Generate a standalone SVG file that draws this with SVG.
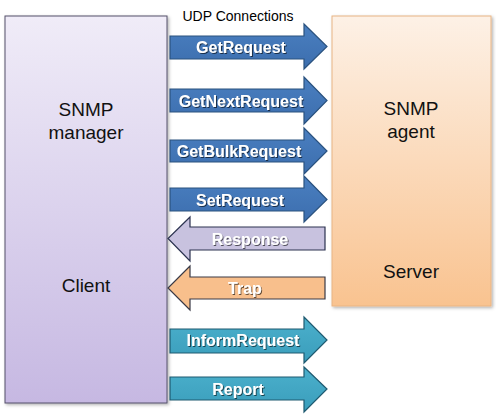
<svg xmlns="http://www.w3.org/2000/svg" width="496" height="416" viewBox="0 0 496 416">
<style>
.big{font-family:"Liberation Sans",Arial,sans-serif;font-size:19px;fill:#111;text-anchor:middle}
.lbl{font-family:"Liberation Sans",Arial,sans-serif;font-size:16px;font-weight:bold;fill:#fff;text-anchor:middle;filter:url(#ts)}
.udp{font-family:"Liberation Sans",Arial,sans-serif;font-size:14px;fill:#000;text-anchor:middle}
.blue{fill:url(#gBlue);stroke:#2a527f;stroke-width:1.2}
.lav{fill:#c8c2df;stroke:#2c3350;stroke-width:1.2}
.org{fill:#f8bf8c;stroke:#3a3a46;stroke-width:1.2}
.teal{fill:url(#gTeal);stroke:#1f5a70;stroke-width:1.2}
</style>
<defs>
<linearGradient id="gL" x1="0" y1="0" x2="0" y2="1"><stop offset="0" stop-color="#f0ecf8"/><stop offset="1" stop-color="#c6b8e2"/></linearGradient>
<linearGradient id="gR" x1="0" y1="0" x2="0" y2="1"><stop offset="0" stop-color="#fdf1e6"/><stop offset="1" stop-color="#f9c390"/></linearGradient>
<linearGradient id="gBlue" x1="0" y1="0" x2="0" y2="1"><stop offset="0" stop-color="#4a7fc0"/><stop offset="1" stop-color="#3c6eae"/></linearGradient>
<linearGradient id="gTeal" x1="0" y1="0" x2="0" y2="1"><stop offset="0" stop-color="#4bb0cc"/><stop offset="1" stop-color="#3a9dbb"/></linearGradient>
<filter id="ts" x="-10%" y="-30%" width="120%" height="160%"><feDropShadow dx="1" dy="1" stdDeviation="0.6" flood-color="#000" flood-opacity="0.6"/></filter>
<filter id="bs" x="-5%" y="-5%" width="110%" height="110%"><feDropShadow dx="1.5" dy="1.5" stdDeviation="1.5" flood-color="#000" flood-opacity="0.3"/></filter>
</defs>
<rect width="496" height="416" fill="#fff"/>
<g id="manager">
<rect x="5" y="16" width="162" height="387" fill="url(#gL)" stroke="#55506a" stroke-width="1" filter="url(#bs)"/>
<text class="big" x="86" y="116">SNMP</text>
<text class="big" x="86" y="139">manager</text>
<text class="big" x="86" y="292">Client</text>
</g>
<g id="agent">
<rect x="332" y="16" width="159" height="290" fill="url(#gR)" stroke="#e8b483" stroke-width="1" filter="url(#bs)"/>
<text class="big" x="411" y="115">SNMP</text>
<text class="big" x="411" y="138">agent</text>
<text class="big" x="411" y="278">Server</text>
</g>
<text class="udp" x="238" y="21">UDP Connections</text>
<g id="connectors">
<g id="getrequest">
<path class="blue" d="M170,36 H304 V24 L327,46.5 L304,69 V59 H170 Z"/>
<text class="lbl" x="241" y="53">GetRequest</text>
</g>
<g id="getnextrequest">
<path class="blue" d="M170,89 H304 V77 L327,100.5 L304,124 V112 H170 Z"/>
<text class="lbl" x="241" y="106.5">GetNextRequest</text>
</g>
<g id="getbulkrequest">
<path class="blue" d="M170,140 H304 V128 L327,151 L304,174 V162 H170 Z"/>
<text class="lbl" x="239" y="157">GetBulkRequest</text>
</g>
<g id="setrequest">
<path class="blue" d="M170,188 H304 V176 L327,199.5 L304,222 V211 H170 Z"/>
<text class="lbl" x="240" y="205.5">SetRequest</text>
</g>
<g id="response">
<path class="lav" d="M325,227 H190 V217 L168,238.5 L190,261 V250 H325 Z"/>
<text class="lbl" x="250" y="244.5">Response</text>
</g>
<g id="trap">
<path class="org" d="M325,277 H190 V266 L168,288 L190,310 V299 H325 Z"/>
<text class="lbl" x="245" y="294">Trap</text>
</g>
<g id="informrequest">
<path class="teal" d="M170,329 H304 V317 L327,340 L304,363 V353 H170 Z"/>
<text class="lbl" x="243" y="346">InformRequest</text>
</g>
<g id="report">
<path class="teal" d="M170,377 H304 V367 L327,389 L304,412 V400 H170 Z"/>
<text class="lbl" x="238" y="395">Report</text>
</g>
</g>
</svg>
